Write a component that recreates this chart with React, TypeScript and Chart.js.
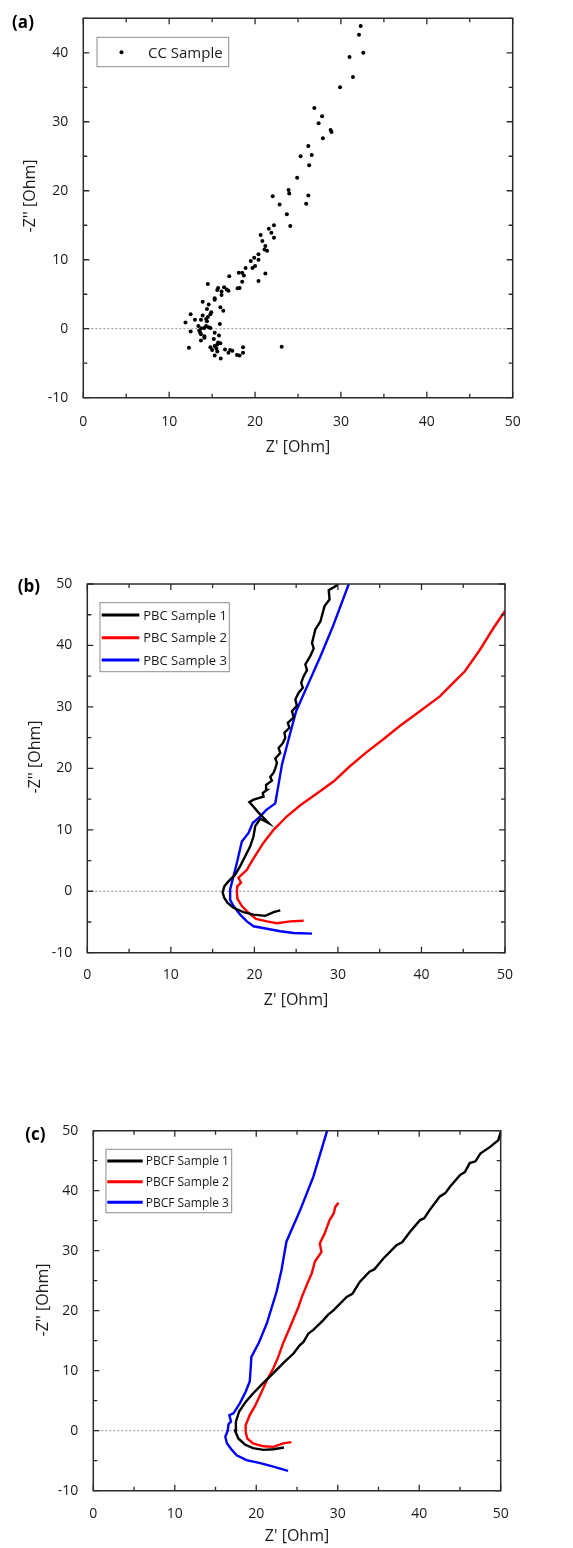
import React, { useEffect, useRef } from 'react';
import { Chart, registerables } from 'chart.js';

Chart.register(...registerables);

// ---------- Panel (a): CC Sample scatter ----------
const ccZre = [
  32.3, 32.1, 32.6, 31.0, 31.4, 29.9, 26.9, 27.8, 27.4, 28.8, 28.9, 27.9, 26.2, 25.3, 26.6, 26.3,
  24.9, 23.9, 23.98, 26.2, 22.05, 25.95, 22.86, 23.7, 24.1, 22.2, 21.6, 21.9, 20.65, 22.2, 20.85,
  21.2, 21.1, 21.4, 20.4, 19.9, 19.5, 20.4, 20.0, 19.7, 18.9, 21.2, 18.1, 18.5, 18.7, 17.0, 20.4,
  18.5, 14.5, 18.2, 17.97, 16.4, 15.7, 16.7, 16.9, 15.6, 16.1, 16.1, 15.3, 15.3, 13.9, 14.6, 15.96,
  16.3, 14.4, 14.9, 14.8, 12.5, 13.9, 14.5, 13.0, 13.7, 14.3, 11.9, 14.4, 15.9, 14.3, 13.4, 14.1,
  14.6, 14.8, 13.74, 13.5, 12.5, 13.6, 15.3, 13.7, 14.1, 15.8, 14.1, 15.2, 13.7, 15.7, 15.96, 15.6,
  15.3, 14.8, 12.3, 18.6, 23.1, 15.5, 15.0, 16.5, 17.1, 17.35, 15.6, 16.9, 18.6, 15.3, 17.9, 18.2,
  16.0,
];
const ccZim = [
  43.9, 42.6, 40.0, 39.4, 36.5, 35.0, 32.0, 30.8, 29.8, 28.8, 28.5, 27.6, 26.5, 25.0, 25.2, 23.7,
  21.9, 20.1, 19.6, 19.3, 19.2, 18.1, 18.0, 16.6, 14.9, 15.0, 14.5, 13.9, 13.6, 13.2, 12.7,
  12.0, 11.5, 11.3, 10.8, 10.3, 9.8, 10.0, 9.1, 8.8, 8.8, 8.0, 8.1, 8.1, 7.7, 7.6, 6.9,
  6.8, 6.5, 5.9, 5.85, 6.0, 5.9, 5.7, 5.5, 5.6, 5.4, 4.9, 4.4, 4.2, 3.9, 3.5, 3.1,
  2.6, 2.85, 2.4, 2.1, 2.1, 1.9, 1.7, 1.3, 1.3, 1.4, 0.9, 1.1, 0.7, 0.4, 0.4, 0.1,
  0.2, 0.1, 0.05, -0.25, -0.4, -0.5, -0.6, -0.8, -1.1, -1.0, -1.3, -1.5, -1.7, -2.0, -2.1, -2.3,
  -2.5, -2.7, -2.75, -2.7, -2.6, -2.85, -3.1, -3.0, -3.1, -3.2, -3.3, -3.5, -3.5, -3.9, -3.8, -3.9,
  -4.3,
];

// ---------- Panel (b): PBC samples ----------
const pbc1Zre = [
  23.1, 22.3, 21.3, 19.9, 18.7, 17.5, 16.8, 16.4, 16.2, 16.4, 16.9, 17.7, 18.3, 18.9, 19.5, 19.9,
  20.1, 20.7, 21.7, 20.5, 19.4, 19.9, 21.1, 21.0, 21.5, 21.4, 22.1, 21.9, 22.3, 22.5, 22.7, 22.5,
  23.1, 22.9, 23.4, 23.7, 23.6, 24.2, 24.0, 24.7, 24.5, 25.1, 24.9, 25.3, 25.8, 25.6, 25.9, 26.3,
  26.1, 26.7, 27.1, 26.9, 27.3, 27.9, 28.4, 29.0, 28.9, 29.8, 30.0,
];
const pbc1Zim = [
  -3.1, -3.4, -4.0, -3.8, -3.4, -2.7, -1.9, -1.1, -0.2, 0.8, 1.6, 2.7, 4.1, 5.7, 7.3, 8.95,
  10.6, 11.8, 11.1, 12.8, 14.5, 14.9, 15.4, 16.0, 16.5, 17.3, 18.0, 18.6, 19.3, 20.0, 20.9, 21.6,
  22.5, 23.3, 24.1, 25.0, 25.8, 26.6, 27.4, 28.3, 29.3, 30.2, 31.2, 32.3, 33.1, 33.9, 35.0, 36.0,
  36.9, 38.3, 39.5, 40.4, 42.6, 43.9, 46.4, 47.5, 49.0, 49.7, 50.0,
];
const pbc2Zre = [
  25.9, 24.3, 22.7, 21.5, 20.2, 19.3, 18.5, 17.97, 17.9, 17.95, 18.4, 18.1, 18.5, 19.1, 19.7, 20.3,
  21.1, 22.3, 23.9, 25.5, 27.9, 29.5, 31.4, 33.4, 35.4, 37.4, 39.4, 42.2, 43.8, 45.2, 47.0, 48.6, 50.0,
];
const pbc2Zim = [
  -4.8, -4.9, -5.2, -4.9, -4.5, -3.5, -2.4, -1.25, 0.0, 0.8, 1.4, 2.2, 2.7, 3.5, 4.9, 6.2,
  7.9, 10.0, 12.2, 14.0, 16.3, 17.9, 20.3, 22.6, 24.7, 26.9, 28.9, 31.7, 33.9, 35.8, 39.3, 42.8, 45.6,
];
const pbc3Zre = [
  26.9, 24.7, 23.1, 21.5, 19.9, 19.1, 18.3, 17.5, 17.1, 17.1, 17.4, 17.9, 18.5, 19.3, 19.8, 20.7,
  21.4, 22.5, 23.3, 24.3, 25.0, 26.3, 27.9, 29.4, 31.3,
];
const pbc3Zim = [
  -6.9, -6.8, -6.5, -6.1, -5.7, -4.9, -3.8, -2.4, -1.4, 0.3, 1.9, 4.6, 8.1, 9.5, 11.1, 12.2,
  13.2, 14.3, 20.6, 25.8, 29.3, 33.3, 38.2, 43.1, 50.0,
];

// ---------- Panel (c): PBCF samples ----------
const pbcf1Zre = [
  23.4, 22.1, 20.9, 19.6, 18.6, 17.8, 17.4, 17.5, 17.9, 18.7, 19.6, 20.9, 22.1, 23.5, 24.6, 25.3,
  25.8, 26.4, 27.0, 28.2, 28.8, 29.5, 31.1, 31.8, 32.7, 33.9, 34.5, 35.6, 37.2, 37.9, 38.9, 40.1,
  40.6, 41.3, 42.5, 43.2, 43.8, 45.0, 45.6, 46.2, 46.9, 47.5, 48.7, 49.7, 50.0,
];
const pbcf1Zim = [
  -2.8, -3.1, -3.2, -2.9, -2.3, -1.3, 0.0, 1.5, 3.2, 4.8, 6.2, 8.0, 9.6, 11.5, 12.9, 14.2,
  14.8, 16.2, 16.8, 18.4, 19.3, 20.1, 22.3, 22.8, 24.8, 26.5, 26.9, 28.7, 30.9, 31.4, 33.2, 35.1,
  35.4, 36.8, 39.0, 39.6, 40.7, 42.6, 43.1, 44.6, 44.9, 46.2, 47.3, 48.4, 49.8,
];
const pbcf2Zre = [
  24.3, 23.3, 22.1, 20.9, 19.6, 18.9, 18.7, 18.7, 19.2, 19.8, 20.4, 21.3, 22.1, 22.7, 23.3, 23.9,
  24.5, 25.2, 25.6, 26.2, 26.8, 27.2, 28.0, 27.8, 28.4, 29.0, 29.5, 29.7, 30.1,
];
const pbcf2Zim = [
  -1.9, -2.1, -2.7, -2.6, -2.1, -1.3, -0.2, 0.9, 2.6, 4.0, 5.7, 8.4, 10.4, 12.3, 14.6, 16.5,
  18.4, 20.7, 22.3, 24.3, 26.2, 28.2, 29.8, 31.2, 32.9, 35.1, 36.2, 37.3, 38.0,
];
const pbcf3Zre = [
  23.9, 22.1, 20.5, 18.8, 17.6, 17.0, 16.4, 16.2, 16.5, 16.6, 16.9, 16.7, 17.2, 18.0, 18.7, 19.2,
  19.3, 19.4, 20.3, 21.3, 22.5, 23.1, 23.7, 25.4, 27.0, 28.7,
];
const pbcf3Zim = [
  -6.7, -6.0, -5.4, -4.9, -4.1, -3.2, -2.1, -1.0, 0.0, 1.1, 1.5, 2.6, 2.9, 4.6, 6.5, 8.2,
  10.1, 12.3, 14.6, 17.9, 23.2, 26.8, 31.5, 36.8, 42.3, 50.0,
];

const xTicksMajor = [0, 10, 20, 30, 40, 50];

const FONT = '"Open Sans", "Noto Sans", sans-serif';
const W = 573;

const pts = (xs: number[], ys: number[]) => xs.map((x, i) => ({ x, y: ys[i] }));

function drawDecor(chart: any, cfg: any) {
  const ctx: CanvasRenderingContext2D = chart.ctx;
  const a = chart.chartArea;
  const xs = chart.scales.x;
  const ys = chart.scales.y;
  ctx.save();
  ctx.setLineDash([]);
  ctx.globalAlpha = 1;
  // frame
  ctx.strokeStyle = '#2b2b2b';
  ctx.lineWidth = 1.5;
  ctx.beginPath();
  ctx.moveTo(a.left, a.top);
  ctx.lineTo(a.right, a.top);
  ctx.lineTo(a.right, a.bottom);
  ctx.lineTo(a.left, a.bottom);
  ctx.closePath();
  ctx.stroke();
  // inward ticks on all four sides
  ctx.lineWidth = 1.3;
  ctx.beginPath();
  for (let v = 0; v <= 50 + 1e-9; v += 5) {
    const major = v % 10 === 0;
    const L = major ? 6 : 4;
    const px = xs.getPixelForValue(v);
    ctx.moveTo(px, a.bottom);
    ctx.lineTo(px, a.bottom - L);
    ctx.moveTo(px, a.top);
    ctx.lineTo(px, a.top + L);
  }
  for (let v = cfg.yMin; v <= cfg.yMax + 1e-9; v += 5) {
    const major = Math.abs(v) % 10 === 0;
    const L = major ? 6 : 4;
    const py = ys.getPixelForValue(v);
    ctx.moveTo(a.left, py);
    ctx.lineTo(a.left + L, py);
    ctx.moveTo(a.right, py);
    ctx.lineTo(a.right - L, py);
  }
  ctx.stroke();

  // legend
  const lg = cfg.legend;
  ctx.fillStyle = '#ffffff';
  ctx.fillRect(lg.x, lg.y, lg.w, lg.h);
  ctx.strokeStyle = '#8c8c8c';
  ctx.lineWidth = 1;
  ctx.strokeRect(lg.x, lg.y, lg.w, lg.h);
  ctx.font = `${lg.fontSize}px ${FONT}`;
  ctx.textBaseline = 'middle';
  ctx.textAlign = 'left';
  chart.data.datasets.forEach((ds: any, i: number) => {
    const ry = lg.rows[i];
    if (lg.point) {
      ctx.fillStyle = ds.backgroundColor;
      ctx.beginPath();
      ctx.arc((lg.l0 + lg.l1) / 2, ry, 2, 0, Math.PI * 2);
      ctx.fill();
    } else {
      ctx.strokeStyle = ds.borderColor;
      ctx.lineWidth = 3;
      ctx.beginPath();
      ctx.moveTo(lg.l0, ry);
      ctx.lineTo(lg.l1, ry);
      ctx.stroke();
    }
    ctx.fillStyle = '#1a1a1a';
    ctx.fillText(ds.label, lg.tx, ry + 1);
  });

  // titles
  ctx.fillStyle = '#1a1a1a';
  ctx.font = `16px ${FONT}`;
  ctx.textAlign = 'center';
  ctx.textBaseline = 'middle';
  ctx.fillText(cfg.xTitle.text, cfg.xTitle.x, cfg.xTitle.y);
  ctx.save();
  ctx.translate(cfg.yTitle.x, cfg.yTitle.y);
  ctx.rotate(-Math.PI / 2);
  ctx.fillText(cfg.yTitle.text, 0, 0);
  ctx.restore();
  ctx.font = `bold 17px ${FONT}`;
  ctx.fillStyle = '#000';
  ctx.fillText(cfg.panel.text, cfg.panel.x, cfg.panel.y);
  ctx.restore();
}

function drawZero(chart: any) {
  const ctx: CanvasRenderingContext2D = chart.ctx;
  const a = chart.chartArea;
  const y0 = chart.scales.y.getPixelForValue(0);
  ctx.save();
  ctx.strokeStyle = '#8a8a8a';
  ctx.lineWidth = 1;
  ctx.setLineDash([2, 2]);
  ctx.beginPath();
  ctx.moveTo(a.left, y0);
  ctx.lineTo(a.right, y0);
  ctx.stroke();
  ctx.restore();
}

type PanelProps = {
  top: number;
  height: number;
  area: { left: number; top: number; right: number; bottom: number };
  yMin: number;
  yMax: number;
  xPad: number;
  datasets: any[];
  decor: any;
};

function Panel(p: PanelProps) {
  const ref = useRef<HTMLCanvasElement | null>(null);
  useEffect(() => {
    if (!ref.current) return;
    const XH = 30;
    const cfg = { ...p.decor, yMin: p.yMin, yMax: p.yMax };
    const decorPlugin = {
      id: 'decor',
      beforeDatasetsDraw(chart: any) {
        drawZero(chart);
      },
      afterDraw(chart: any) {
        drawDecor(chart, cfg);
      },
    };
    const chart = new Chart(ref.current, {
      type: 'scatter',
      data: { datasets: p.datasets },
      plugins: [decorPlugin],
      options: {
        animation: false,
        responsive: false,
        maintainAspectRatio: false,
        devicePixelRatio: 1,
        layout: {
          padding: {
            left: 0,
            top: p.area.top,
            right: W - p.area.right,
            bottom: p.height - p.area.bottom - XH,
          },
        },
        plugins: {
          legend: { display: false },
          tooltip: { enabled: false },
        },
        scales: {
          x: {
            type: 'linear',
            min: 0,
            max: 50,
            afterFit: (s: any) => {
              s.height = XH;
            },
            afterBuildTicks: (s: any) => {
              s.ticks = xTicksMajor.map((v) => ({ value: v }));
            },
            grid: { display: false },
            border: { display: false },
            ticks: {
              padding: p.xPad,
              color: '#1a1a1a',
              font: { family: FONT, size: 14 },
              maxRotation: 0,
            },
          },
          y: {
            type: 'linear',
            min: p.yMin,
            max: p.yMax,
            afterFit: (s: any) => {
              s.width = p.area.left;
            },
            grid: { display: false },
            border: { display: false },
            ticks: {
              stepSize: 10,
              includeBounds: false,
              padding: 7,
              color: '#1a1a1a',
              font: { family: FONT, size: 14 },
            },
          },
        } as any,
      },
    });
    return () => chart.destroy();
  }, []);
  return (
    <canvas
      ref={ref}
      width={W}
      height={p.height}
      style={{ position: 'absolute', left: 0, top: p.top, width: W, height: p.height }}
    />
  );
}

const lineDs = (label: string, color: string, xs: number[], ys: number[]) => ({
  label,
  data: pts(xs, ys),
  showLine: true,
  borderColor: color,
  backgroundColor: color,
  borderWidth: 2.4,
  pointRadius: 0,
  tension: 0,
});

export default function App() {
  const dsA = [
    {
      label: 'CC Sample',
      data: pts(ccZre, ccZim),
      backgroundColor: '#000',
      borderColor: '#000',
      borderWidth: 0,
      pointRadius: 2,
    },
  ];
  const dsB = [
    lineDs('PBC Sample 1', '#000000', pbc1Zre, pbc1Zim),
    lineDs('PBC Sample 2', '#ff0000', pbc2Zre, pbc2Zim),
    lineDs('PBC Sample 3', '#0000ff', pbc3Zre, pbc3Zim),
  ];
  const dsC = [
    lineDs('PBCF Sample 1', '#000000', pbcf1Zre, pbcf1Zim),
    lineDs('PBCF Sample 2', '#ff0000', pbcf2Zre, pbcf2Zim),
    lineDs('PBCF Sample 3', '#0000ff', pbcf3Zre, pbcf3Zim),
  ];
  return (
    <div style={{ position: 'absolute', left: 0, top: 0, width: W, height: 1548, background: '#fff' }}>
      <Panel
        top={0}
        height={480}
        area={{ left: 83.3, top: 18.3, right: 512.7, bottom: 397.7 }}
        yMin={-10}
        yMax={45}
        xPad={7.9}
        datasets={dsA}
        decor={{
          legend: { x: 97, y: 37.3, w: 131.7, h: 29.4, rows: [52.3], l0: 112, l1: 131, tx: 148, fontSize: 15, point: true },
          xTitle: { text: "Z' [Ohm]", x: 298, y: 447 },
          yTitle: { text: "-Z'' [Ohm]", x: 30, y: 196 },
          panel: { text: '(a)', x: 23, y: 23.5 },
        }}
      />
      <Panel
        top={540}
        height={500}
        area={{ left: 87.3, top: 44, right: 505, bottom: 412.7 }}
        yMin={-10}
        yMax={50}
        xPad={6.2}
        datasets={dsB}
        decor={{
          legend: { x: 100, y: 62.7, w: 129.3, h: 69, rows: [75, 97.7, 120], l0: 101.7, l1: 139.3, tx: 143.3, fontSize: 13, point: false },
          xTitle: { text: "Z' [Ohm]", x: 296, y: 460 },
          yTitle: { text: "-Z'' [Ohm]", x: 35.5, y: 217 },
          panel: { text: '(b)', x: 28.8, y: 47.5 },
        }}
      />
      <Panel
        top={1100}
        height={448}
        area={{ left: 93.3, top: 30.7, right: 500.7, bottom: 390.7 }}
        yMin={-10}
        yMax={50}
        xPad={6.6}
        datasets={dsC}
        decor={{
          legend: { x: 106, y: 49.3, w: 125.7, h: 63.4, rows: [61, 81.7, 102.3], l0: 107.3, l1: 142.7, tx: 145.7, fontSize: 12, point: false },
          xTitle: { text: "Z' [Ohm]", x: 297, y: 436.7 },
          yTitle: { text: "-Z'' [Ohm]", x: 43, y: 200 },
          panel: { text: '(c)', x: 35.3, y: 35 },
        }}
      />
    </div>
  );
}
